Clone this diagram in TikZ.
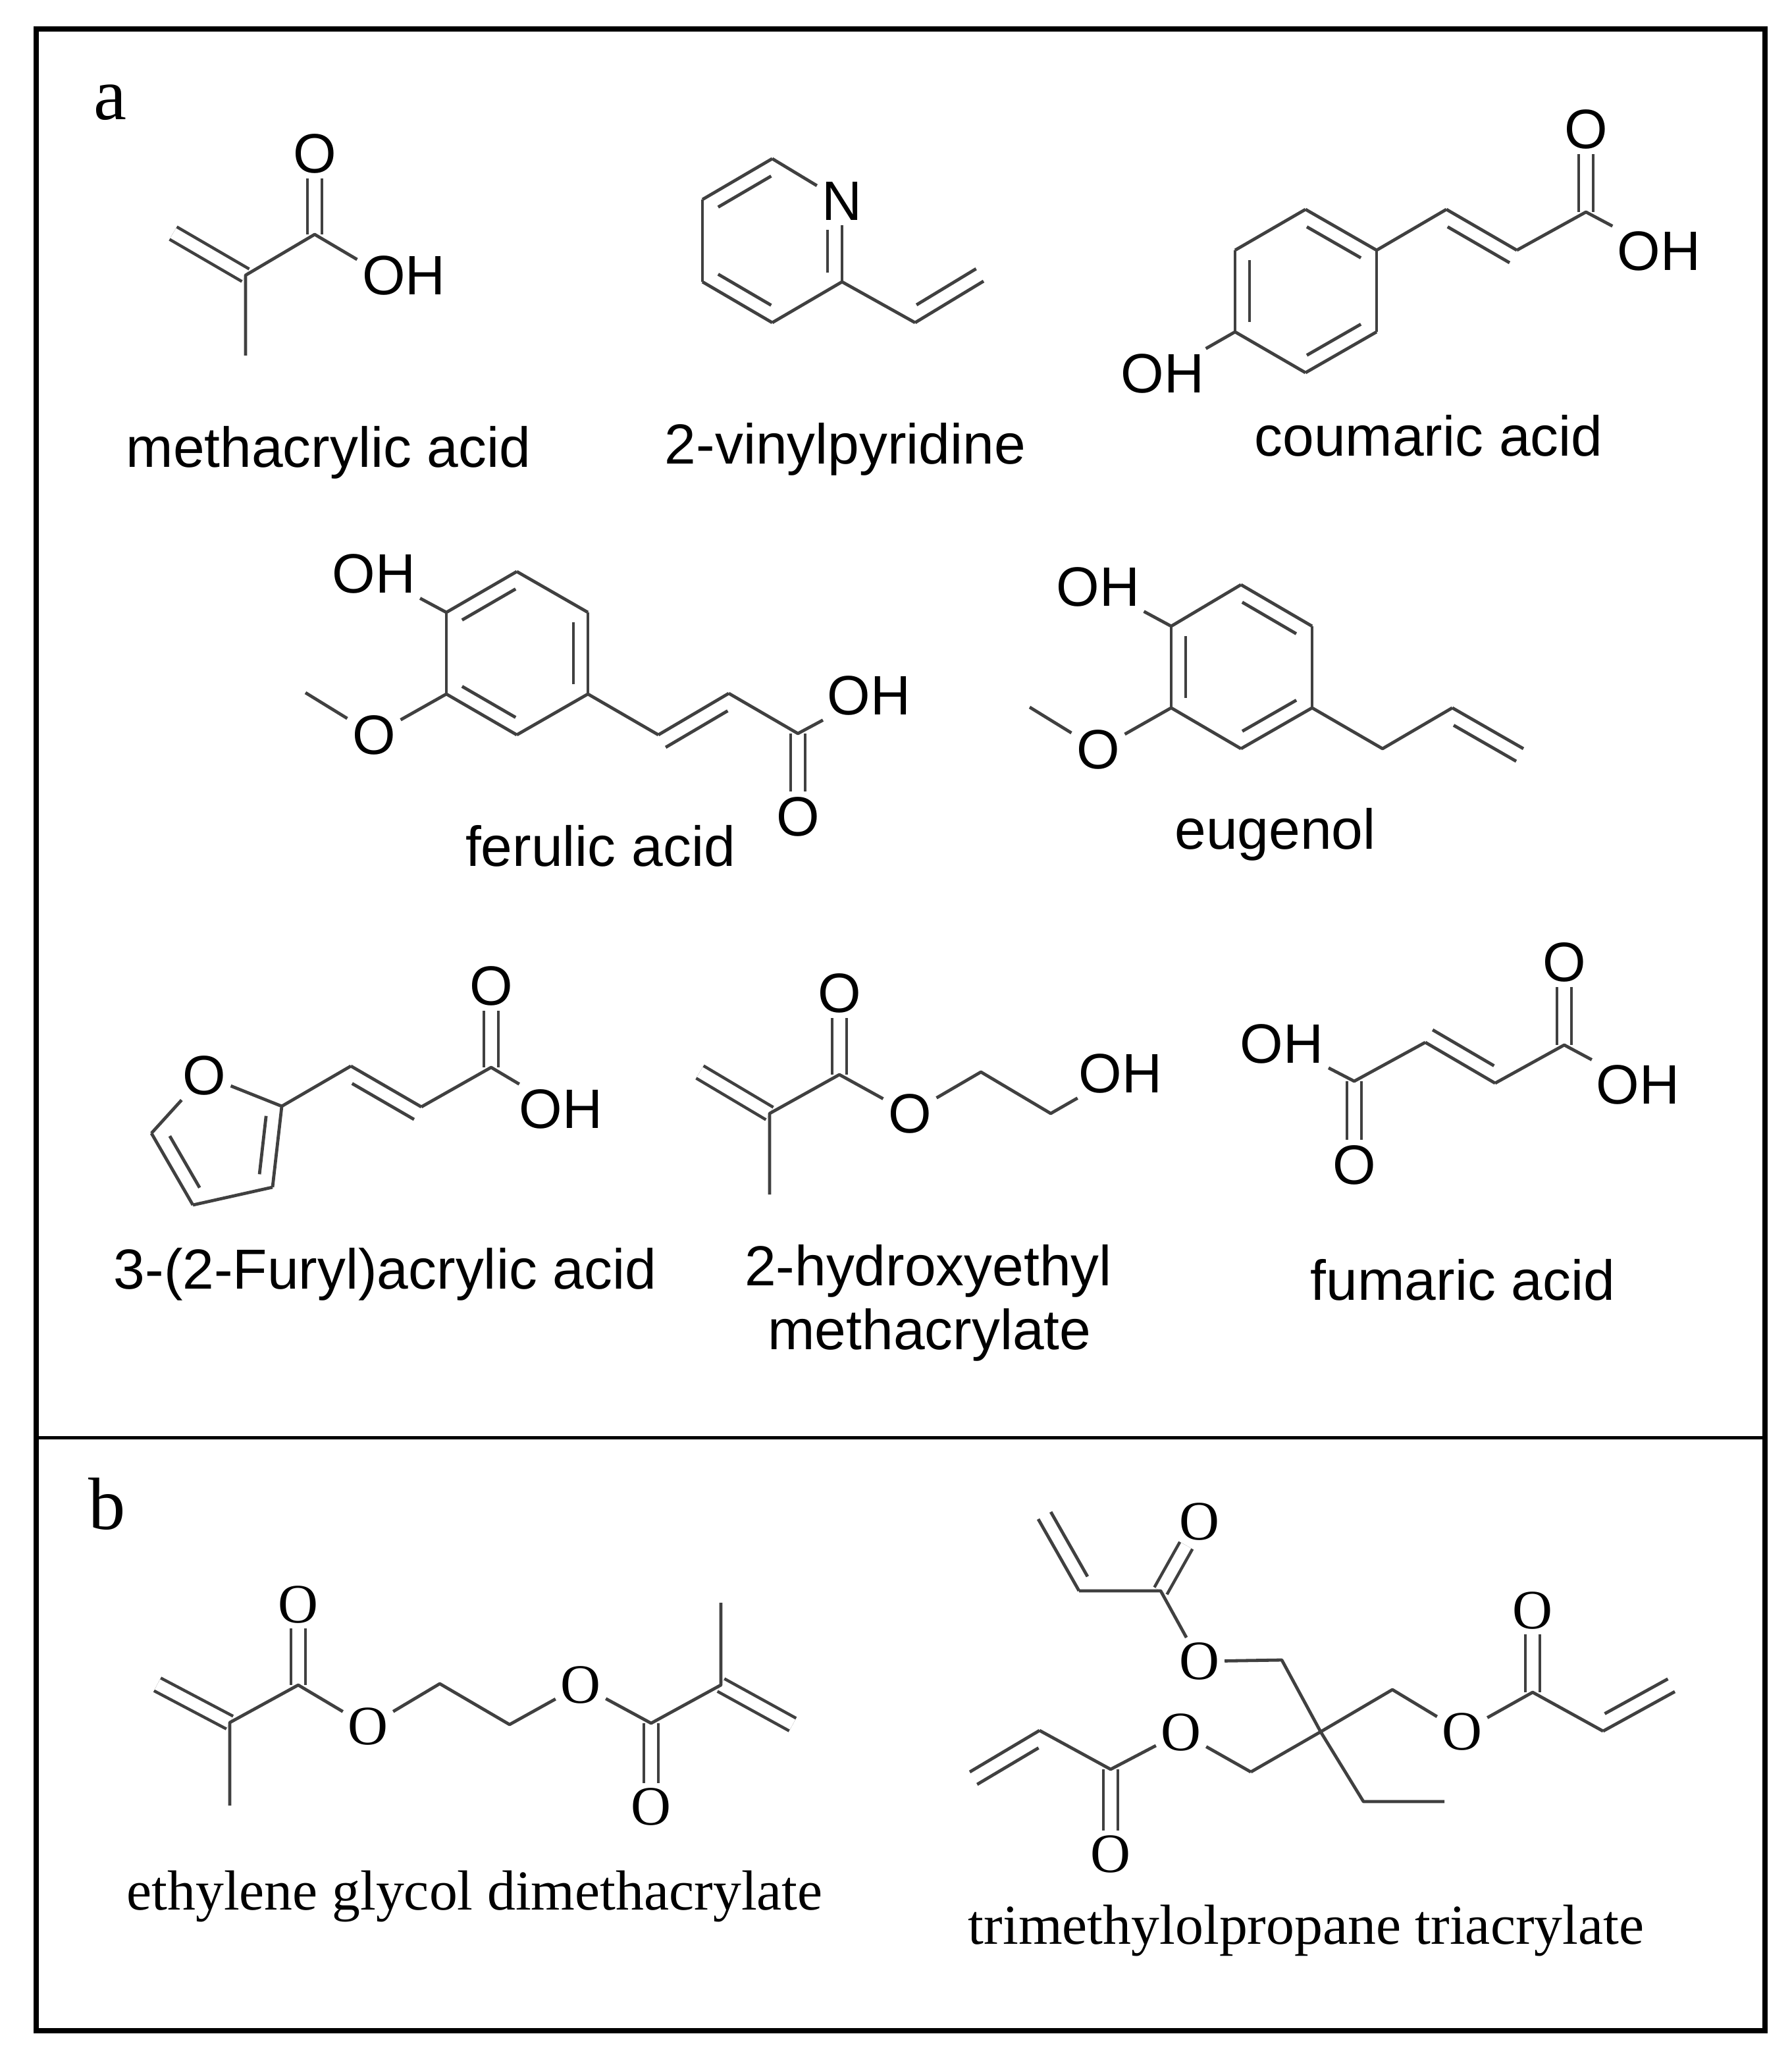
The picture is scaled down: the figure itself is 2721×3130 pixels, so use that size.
\documentclass[tikz,border=0pt]{standalone}
\usepackage{fontspec}
\setmainfont{Liberation Serif}
\setsansfont{Liberation Sans}
\usetikzlibrary{calc}

\definecolor{bondgray}{HTML}{404040}

\tikzset{
    bond/.style={draw=bondgray, line width=0.48mm, line join=round},
    dblb/.style={draw=bondgray, line width=0.46mm, double=white, double distance=1.72mm},
    atom/.style={font=\sffamily\fontsize{24}{26}\selectfont, inner sep=2pt},
    atomr/.style={font=\rmfamily\fontsize{24}{26}\selectfont, inner sep=2pt},
    molname/.style={font=\sffamily\fontsize{24.4}{28}\selectfont, anchor=base, inner sep=0pt},
    molnamer/.style={font=\rmfamily\fontsize{24.4}{28}\selectfont, anchor=base, inner sep=0pt},
    panel/.style={font=\rmfamily\fontsize{32}{36}\selectfont, anchor=base, inner sep=0pt}
}

% main bond plus a shorter parallel one: from, to, side (90 or 270), cut at start, cut at end
\newcommand{\dblbond}[5]{%
    \draw[bond] (#1) -- (#2);
    \draw[bond] ($($(#1)!2.2mm!#3:(#2)$)!#4!($(#2)!2.2mm!-#3:(#1)$)$) -- ($($(#1)!2.2mm!#3:(#2)$)!1-#5!($(#2)!2.2mm!-#3:(#1)$)$);
}

\begin{document}
\begin{tikzpicture}[x=0.1mm, y=-0.1mm]
\useasboundingbox (0,0) rectangle (2721,3130);

% Frame
\draw[line width=0.8mm] (55,44) rectangle (2681,3084);
\coordinate (midL) at (55,2183);
\coordinate (midR) at (2681,2183);
\draw[line width=0.5mm] (midL) -- (midR);
\node[panel] (panelA) at (167,182) {a};
\node[panel] (panelB) at (163,2322) {b};

% Methacrylic acid
\coordinate (maA) at (263,354);
\coordinate (maB) at (373,418);
\coordinate (maC) at (373,540);
\coordinate (maD) at (478,356);
\node[atom] (maO) at (478,233) {O};
\node[atom] (maOH) at (583,418) {O\rlap{H}};
\node[molname] (maName) at (499,710) {methacrylic acid};
\draw[dblb] (maA) -- (maB);
\draw[dblb] (maD) -- (maO);
\draw[bond] (maC) -- (maB) -- (maD) -- (maOH);

% 2-vinylpyridine
\coordinate (vpA) at (1173,241);
\coordinate (vpB) at (1067,303);
\coordinate (vpC) at (1067,428);
\coordinate (vpD) at (1173,490);
\coordinate (vpE) at (1279,428);
\coordinate (vpF) at (1390,490);
\coordinate (vpG) at (1494,427);
\node[atom] (vpN) at (1279,305) {N};
\node[molname] (vpName) at (1284,705) {2-vinylpyridine};
\dblbond{vpB}{vpA}{270}{.12}{.12}
\dblbond{vpC}{vpD}{90}{.12}{.12}
\dblbond{vpE}{vpN}{90}{.11}{.36}
\dblbond{vpF}{vpG}{90}{.13}{0}
\draw[bond] (vpN) -- (vpA);
\draw[bond] (vpB) -- (vpC);
\draw[bond] (vpD) -- (vpE) -- (vpF);

% Coumaric acid
\coordinate (caA) at (1983,318);
\coordinate (caB) at (2091,380);
\coordinate (caC) at (2091,504);
\coordinate (caD) at (1983,566);
\coordinate (caE) at (1876,504);
\coordinate (caF) at (1876,380);
\coordinate (caG) at (2197,318);
\coordinate (caH) at (2304,380);
\coordinate (caI) at (2409,322);
\node[atom] (caO) at (2409,196) {O};
\node[atom] (caOH) at (2520,381) {OH};
\node[atom] (caHO) at (1766,567) {OH};
\node[molname] (caName) at (2170,693) {coumaric acid};
\dblbond{caA}{caB}{270}{.12}{.12}
\dblbond{caF}{caE}{90}{.12}{.12}
\dblbond{caC}{caD}{270}{.12}{.12}
\dblbond{caG}{caH}{270}{.12}{0}
\draw[dblb] (caI) -- (caO);
\draw[bond] (caA) -- (caF);
\draw[bond] (caB) -- (caC);
\draw[bond] (caD) -- (caE);
\draw[bond] (caB) -- (caG);
\draw[bond] (caH) -- (caI) -- (caOH);
\draw[bond] (caE) -- (caHO);

% Ferulic acid
\coordinate (faA) at (785,868);
\coordinate (faB) at (893,930);
\coordinate (faC) at (893,1054);
\coordinate (faD) at (785,1116);
\coordinate (faE) at (678,1054);
\coordinate (faF) at (678,930);
\coordinate (faG) at (1000,1116);
\coordinate (faH) at (1107,1053);
\coordinate (faI) at (1212,1114);
\coordinate (faJ) at (464,1052);
\node[atom] (faHO) at (568,871) {OH};
\node[atom] (faOMe) at (568,1116) {O};
\node[atom] (faO) at (1212,1240) {O};
\node[atom] (faOH) at (1320,1056) {OH};
\node[molname] (faName) at (912,1315) {ferulic acid};
\dblbond{faF}{faA}{270}{.12}{.12}
\dblbond{faB}{faC}{270}{.12}{.12}
\dblbond{faE}{faD}{90}{.12}{.12}
\dblbond{faG}{faH}{270}{0}{.12}
\draw[dblb] (faI) -- (faO);
\draw[bond] (faA) -- (faB);
\draw[bond] (faC) -- (faD);
\draw[bond] (faE) -- (faF);
\draw[bond] (faF) -- (faHO);
\draw[bond] (faE) -- (faOMe) -- (faJ);
\draw[bond] (faC) -- (faG);
\draw[bond] (faH) -- (faI) -- (faOH);

% Eugenol
\coordinate (euA) at (1885,888);
\coordinate (euB) at (1993,951);
\coordinate (euC) at (1993,1075);
\coordinate (euD) at (1885,1137);
\coordinate (euE) at (1779,1075);
\coordinate (euF) at (1779,951);
\coordinate (euG) at (2100,1137);
\coordinate (euH) at (2206,1075);
\coordinate (euI) at (2314,1137);
\coordinate (euJ) at (1564,1074);
\node[atom] (euHO) at (1668,891) {OH};
\node[atom] (euOMe) at (1668,1138) {O};
\node[molname] (euName) at (1937,1289) {eugenol};
\dblbond{euA}{euB}{270}{.12}{.12}
\dblbond{euF}{euE}{90}{.12}{.12}
\dblbond{euC}{euD}{270}{.12}{.12}
\dblbond{euH}{euI}{270}{.12}{0}
\draw[bond] (euA) -- (euF);
\draw[bond] (euB) -- (euC);
\draw[bond] (euD) -- (euE);
\draw[bond] (euF) -- (euHO);
\draw[bond] (euE) -- (euOMe) -- (euJ);
\draw[bond] (euC) -- (euG) -- (euH);

% 3-(2-Furyl)acrylic acid
\coordinate (fuA) at (428,1680);
\coordinate (fuB) at (414,1803);
\coordinate (fuC) at (293,1830);
\coordinate (fuD) at (230,1721);
\coordinate (fuE) at (533,1619);
\coordinate (fuF) at (640,1681);
\coordinate (fuG) at (746,1621);
\node[atom] (fuRing) at (310,1633) {O};
\node[atom] (fuO) at (746,1497) {O};
\node[atom] (fuOH) at (852,1684) {OH};
\node[molname] (fuName) at (585,1957) {3-(2-Furyl)acrylic acid};
\dblbond{fuA}{fuB}{270}{.14}{.14}
\dblbond{fuC}{fuD}{270}{.14}{.14}
\dblbond{fuE}{fuF}{270}{.12}{0}
\draw[dblb] (fuG) -- (fuO);
\draw[bond] (fuB) -- (fuC);
\draw[bond] (fuD) -- (fuRing) -- (fuA) -- (fuE);
\draw[bond] (fuF) -- (fuG) -- (fuOH);

% 2-hydroxyethyl methacrylate
\coordinate (heA) at (1063,1628);
\coordinate (heB) at (1169,1691);
\coordinate (heC) at (1169,1814);
\coordinate (heD) at (1275,1632);
\coordinate (heE) at (1490,1628);
\coordinate (heF) at (1596,1691);
\node[atom] (heO) at (1275,1508) {O};
\node[atom] (heEst) at (1382,1691) {O};
\node[atom] (heOH) at (1702,1630) {OH};
\node[molname] (heNameA) at (1410,1952) {2-hydroxyethyl};
\node[molname] (heNameB) at (1412,2049) {methacrylate};
\draw[dblb] (heA) -- (heB);
\draw[dblb] (heD) -- (heO);
\draw[bond] (heC) -- (heB) -- (heD) -- (heEst) -- (heE) -- (heF) -- (heOH);

% Fumaric acid
\coordinate (fmA) at (2057,1642);
\coordinate (fmB) at (2165,1583);
\coordinate (fmC) at (2271,1645);
\coordinate (fmD) at (2376,1587);
\node[atom] (fmHO) at (1947,1585) {OH};
\node[atom] (fmOa) at (2057,1769) {O};
\node[atom] (fmOb) at (2376,1461) {O};
\node[atom] (fmOH) at (2488,1647) {OH};
\node[molname] (fmName) at (2222,1974) {fumaric acid};
\dblbond{fmB}{fmC}{90}{0}{.12}
\draw[dblb] (fmA) -- (fmOa);
\draw[dblb] (fmD) -- (fmOb);
\draw[bond] (fmHO) -- (fmA) -- (fmB);
\draw[bond] (fmC) -- (fmD) -- (fmOH);

% Ethylene glycol dimethacrylate
\coordinate (egA) at (239,2558);
\coordinate (egB) at (349,2616);
\coordinate (egC) at (349,2742);
\coordinate (egD) at (453,2559);
\coordinate (egE) at (668,2557);
\coordinate (egF) at (774,2619);
\coordinate (egG) at (989,2617);
\coordinate (egH) at (1095,2559);
\coordinate (egI) at (1095,2434);
\coordinate (egJ) at (1204,2619);
\node[atomr] (egOa) at (453,2437) {O};
\node[atomr] (egOb) at (559,2622) {O};
\node[atomr] (egOc) at (882,2559) {O};
\node[atomr] (egOd) at (989,2744) {O};
\node[molnamer] (egName) at (721,2900) {ethylene glycol dimethacrylate};
\draw[dblb] (egA) -- (egB);
\draw[dblb] (egD) -- (egOa);
\draw[dblb] (egG) -- (egOd);
\draw[dblb] (egH) -- (egJ);
\draw[bond] (egC) -- (egB) -- (egD) -- (egOb) -- (egE) -- (egF) -- (egOc) -- (egG) -- (egH) -- (egI);

% Trimethylolpropane triacrylate
\coordinate (tmC) at (2006,2630);
\coordinate (tmA) at (1947,2521);
\coordinate (tmB) at (1763,2416);
\coordinate (tmD) at (1639,2416);
\coordinate (tmE) at (1577,2307);
\coordinate (tmF) at (2115,2566);
\coordinate (tmG) at (2328,2570);
\coordinate (tmH) at (2435,2629);
\coordinate (tmI) at (2544,2569);
\coordinate (tmJ) at (1900,2691);
\coordinate (tmK) at (1687,2687);
\coordinate (tmL) at (1579,2628);
\coordinate (tmM) at (1473,2691);
\coordinate (tmN) at (2071,2736);
\coordinate (tmP) at (2194,2736);
\node[atomr] (tmOa) at (1822,2523) {O};
\node[atomr] (tmOb) at (1822,2311) {O};
\node[atomr] (tmOc) at (2221,2630) {O};
\node[atomr] (tmOd) at (2328,2446) {O};
\node[atomr] (tmOe) at (1794,2631) {O};
\node[atomr] (tmOf) at (1687,2816) {O};
\node[molnamer] (tmName) at (1984,2952) {trimethylolpropane triacrylate};
\dblbond{tmD}{tmE}{270}{.1}{0}
\dblbond{tmH}{tmI}{90}{.12}{0}
\dblbond{tmL}{tmM}{90}{.12}{0}
\draw[dblb] (tmB) -- (tmOb);
\draw[dblb] (tmG) -- (tmOd);
\draw[dblb] (tmK) -- (tmOf);
\draw[bond] (tmD) -- (tmB) -- (tmOa) -- (tmA) -- (tmC) -- (tmN) -- (tmP);
\draw[bond] (tmJ) -- (tmC) -- (tmF) -- (tmOc) -- (tmG) -- (tmH);
\draw[bond] (tmJ) -- (tmOe) -- (tmK) -- (tmL);

\end{tikzpicture}
\end{document}
